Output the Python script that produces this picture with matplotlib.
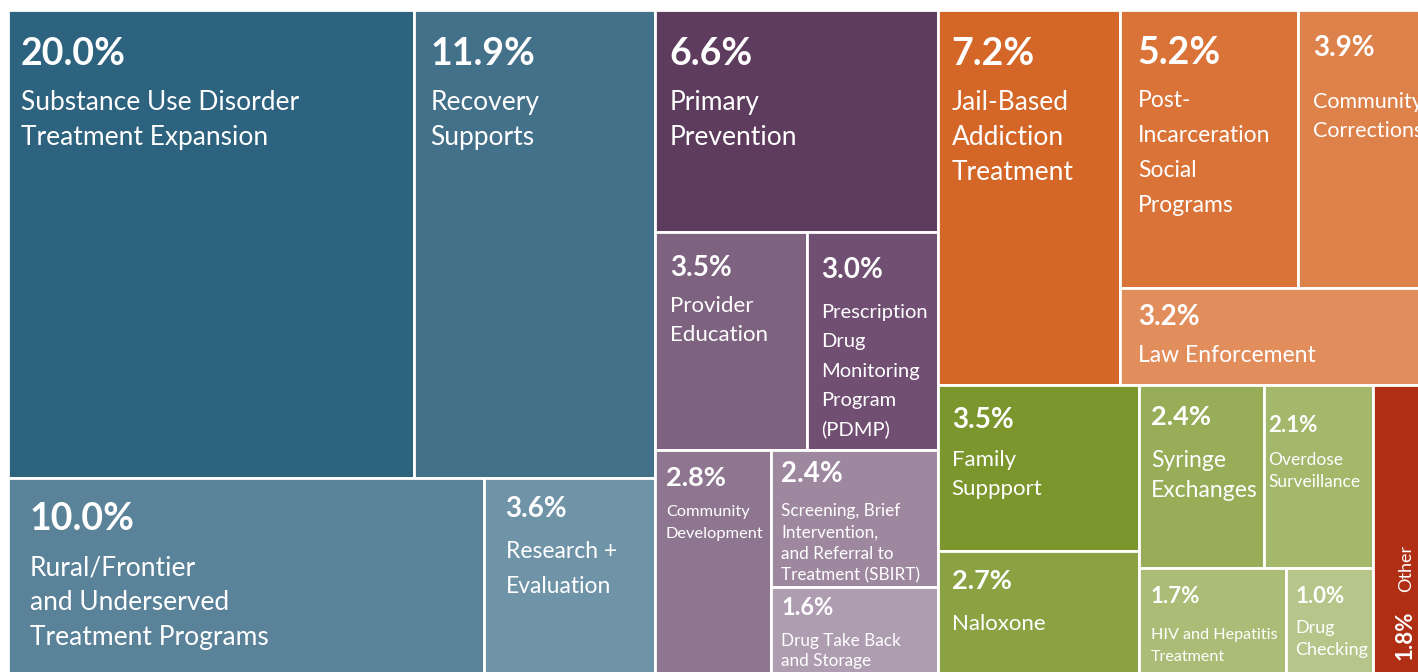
import matplotlib
matplotlib.use("Agg")
import matplotlib.pyplot as plt
from matplotlib.patches import Rectangle

# ---------------- data ----------------
categories = [
    "Substance Use Disorder\nTreatment Expansion",
    "Recovery\nSupports",
    "Rural/Frontier\nand Underserved\nTreatment Programs",
    "Research +\nEvaluation",
    "Primary\nPrevention",
    "Provider\nEducation",
    "Prescription\nDrug\nMonitoring\nProgram\n(PDMP)",
    "Community\nDevelopment",
    "Screening, Brief\nIntervention,\nand Referral to\nTreatment (SBIRT)",
    "Drug Take Back\nand Storage",
    "Jail-Based\nAddiction\nTreatment",
    "Post-\nIncarceration\nSocial\nPrograms",
    "Community\nCorrections",
    "Law Enforcement",
    "Family\nSuppport",
    "Naloxone",
    "Syringe\nExchanges",
    "Overdose\nSurveillance",
    "HIV and Hepatitis\nTreatment",
    "Drug\nChecking",
    "Other",
]
shares = [20.0, 11.9, 10.0, 3.6, 6.6, 3.5, 3.0, 2.8, 2.4, 1.6,
          7.2, 5.2, 3.9, 3.2, 3.5, 2.7, 2.4, 2.1, 1.7, 1.0, 1.8]

# ---------------- layout structure (slice & dice) ----------------
# 'h' = children side by side, 'v' = children stacked
tree = ('h', [
    ('v', [('h', [0, 1]), ('h', [2, 3])]),
    ('v', [4, ('h', [5, 6]), ('h', [7, ('v', [8, 9])])]),
    ('v', [
        ('h', [10, ('v', [('h', [11, 12]), 13])]),
        ('h', [('v', [14, 15]),
               ('v', [('h', [16, 17]), ('h', [18, 19])]),
               20]),
    ]),
])

colors = ["#2e6380", "#44718a", "#5a8299", "#6f94a8",
          "#5e3c5e", "#7e6380", "#704f72", "#8e7590", "#9e889f", "#ae9cb0",
          "#d46728", "#da7337", "#de824b", "#e28e5c",
          "#7a962c", "#8aa241", "#97ad58", "#a4b86c", "#abbc77", "#b6c68b",
          "#b02e14"]

# text style per cell: pct size, label size, dx, pct dy, label dy, line spacing (px)
styles = [
    (27, 19, 13, 55, 100, 35),
    (27, 19, 17, 55, 100, 35),
    (27, 19, 22, 52, 97, 35),
    (20, 16.5, 22, 39, 80, 35),
    (27, 19, 15, 55, 100, 35),
    (20, 16, 15, 44.5, 80, 29),
    (20, 14.5, 14, 46, 86, 29.5),
    (19.5, 11.8, 11, 36, 66, 22),
    (20, 12.3, 10, 32, 66, 21.5),
    (17, 12.3, 10, 28, 59, 20.5),
    (27, 19, 14, 55, 100, 35),
    (27, 16.5, 18, 54, 97, 35),
    (20, 15.5, 15, 46, 98, 29),
    (20, 16.5, 18, 37, 74, 0),
    (20, 16, 14, 43, 81, 29),
    (19.5, 16, 14, 38, 79, 0),
    (19.5, 16.5, 12, 40, 82, 30),
    (16, 12.5, 5, 47, 80, 22),
    (16, 11.6, 12, 35, 71, 22),
    (16, 13, 9, 35, 65, 22),
    (16, 13, 0, 0, 0, 0),
]


def total(node):
    if isinstance(node, int):
        return shares[node]
    return sum(total(c) for c in node[1])


rects = {}


def layout(node, x, y, w, h):
    if isinstance(node, int):
        rects[node] = (x, y, w, h)
        return
    d, kids = node
    s = total(node)
    pos = 0.0
    for k in kids:
        f = total(k) / s
        if d == 'h':
            layout(k, x + pos * w, y, f * w, h)
        else:
            layout(k, x, y + pos * h, w, f * h)
        pos += f


layout(tree, 0.0, 0.0, 1.0, 1.0)

# ---------------- figure ----------------
W, H, DPI = 1418, 672, 100
fig = plt.figure(figsize=(W / DPI, H / DPI), dpi=DPI)
fig.patch.set_facecolor("white")
px0, py0, px1, py1 = 8, 10, 1431, 678
ax = fig.add_axes([px0 / W, (H - py1) / H, (px1 - px0) / W, (py1 - py0) / H])
ax.set_xlim(0, 1)
ax.set_ylim(1, 0)
ax.axis("off")

FONT = ["Lato", "DejaVu Sans"]
PT = 72.0 / DPI

for i, (x, y, w, h) in rects.items():
    ax.add_patch(Rectangle((x, y), w, h, facecolor=colors[i],
                           edgecolor="white", linewidth=2.0, clip_on=False))
    ps, ls, dx, pdy, ldy, sp = styles[i]
    pct = f"{shares[i]:.1f}%"
    if i == 20:
        # rotated "Other" cell: px offsets from the cell's top-left
        ax.annotate(pct, (x, y), xytext=(32 * PT, -275 * PT),
                    textcoords="offset points", rotation=90, ha="center",
                    va="bottom", color="white", fontsize=ps,
                    fontweight="bold", family=FONT, annotation_clip=False)
        ax.annotate(categories[i], (x, y), xytext=(34 * PT, -207 * PT),
                    textcoords="offset points", rotation=90, ha="center",
                    va="bottom", color="white", fontsize=ls,
                    family=FONT, annotation_clip=False)
        continue
    ax.annotate(pct, (x, y), xytext=(dx * PT, -pdy * PT),
                textcoords="offset points", ha="left", va="baseline",
                color="white", fontsize=ps, fontweight="bold", family=FONT,
                annotation_clip=False)
    for j, line in enumerate(categories[i].split("\n")):
        ax.annotate(line, (x, y), xytext=(dx * PT, -(ldy + j * sp) * PT),
                    textcoords="offset points", ha="left", va="baseline",
                    color="white", fontsize=ls, family=FONT,
                    annotation_clip=False)

fig.savefig("out.png", dpi=DPI, facecolor="white")
